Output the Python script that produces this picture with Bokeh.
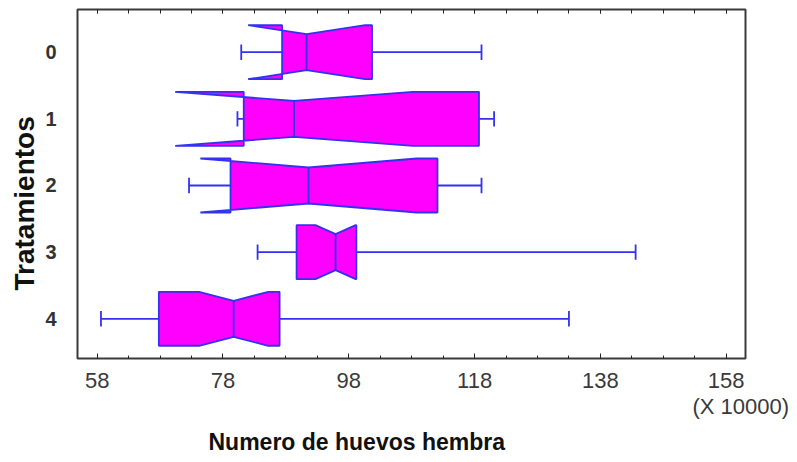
from bokeh.plotting import figure
from bokeh.models import Range1d, FixedTicker, LinearAxis, Title
from bokeh.embed import file_html
from bokeh.resources import INLINE

# Treatment groups (rows, top to bottom)
treatments = ["0", "1", "2", "3", "4"]
rows = [0, 1, 2, 3, 4]

# Five-number summaries, in units of 10000 eggs
whisker_low = [80.9, 80.3, 72.6, 83.5, 58.6]
q1 = [87.4, 81.3, 79.2, 89.7, 67.8]
median = [91.3, 89.3, 91.6, 95.9, 79.7]
q3 = [101.7, 118.7, 112.1, 99.2, 87.0]
whisker_high = [119.1, 121.1, 119.1, 143.6, 133.0]
# Half-width of the median notch
notch_half = [9.3, 18.9, 17.2, 3.2, 5.5]

x_ticks = [58, 78, 98, 118, 138, 158]
x_minor_ticks = list(range(53, 164, 5))

BOX_HALF = 0.405     # half box height (row units)
NOTCH_INSET = 0.135  # how far the outline pinches in at the median
CAP_HALF = 0.115     # half height of whisker caps

FILL = "#ff00ff"
EDGE = "#3232f0"
FONT = "Liberation Sans"

p = figure(width=797, height=462, output_backend="svg", toolbar_location=None,
           x_range=Range1d(54.87, 161.07), y_range=Range1d(4.596, -0.641),
           min_border_left=77, min_border_right=52, min_border_top=9,
           min_border_bottom=104)
p.background_fill_color = "white"
p.border_fill_color = "white"
p.outline_line_color = "#3a3a3a"
p.outline_line_width = 2
p.xgrid.visible = False
p.ygrid.visible = False

# Notched boxes as outlines running Q1 -> notch -> median -> notch -> Q3
xs, ys = [], []
for r, a, m, b, h in zip(rows, q1, median, q3, notch_half):
    lo, hi = m - h, m + h
    top, bot = r - BOX_HALF, r + BOX_HALF
    xs.append([a, lo, m, hi, b, b, hi, m, lo, a])
    ys.append([top, top, top + NOTCH_INSET, top, top,
               bot, bot, bot - NOTCH_INSET, bot, bot])
p.patches(xs, ys, fill_color=FILL, line_color=EDGE, line_width=1.8)

# Median lines
p.segment(x0=median, x1=median,
          y0=[r - BOX_HALF + NOTCH_INSET for r in rows],
          y1=[r + BOX_HALF - NOTCH_INSET for r in rows],
          line_color=EDGE, line_width=1.8)

# Whiskers and caps
p.segment(x0=whisker_low, x1=q1, y0=rows, y1=rows, line_color=EDGE, line_width=1.8)
p.segment(x0=q3, x1=whisker_high, y0=rows, y1=rows, line_color=EDGE, line_width=1.8)
p.segment(x0=whisker_low, x1=whisker_low,
          y0=[r - CAP_HALF for r in rows], y1=[r + CAP_HALF for r in rows],
          line_color=EDGE, line_width=1.8)
p.segment(x0=whisker_high, x1=whisker_high,
          y0=[r - CAP_HALF for r in rows], y1=[r + CAP_HALF for r in rows],
          line_color=EDGE, line_width=1.8)

# Bottom axis
xa = p.xaxis[0]
xa.ticker = FixedTicker(ticks=x_ticks, minor_ticks=x_minor_ticks)
xa.axis_line_color = None
xa.major_tick_in = 5
xa.major_tick_out = 0
xa.minor_tick_in = 3
xa.minor_tick_out = 0
xa.major_tick_line_color = "#222222"
xa.minor_tick_line_color = "#222222"
xa.major_label_text_font = FONT
xa.major_label_text_font_size = "22px"
xa.major_label_text_color = "#3a3a3a"
xa.major_label_standoff = 14

# Top axis: ticks only
top_axis = LinearAxis(ticker=FixedTicker(ticks=x_ticks, minor_ticks=x_minor_ticks))
top_axis.axis_line_color = None
top_axis.major_tick_in = 4
top_axis.major_tick_out = 0
top_axis.minor_tick_in = 4
top_axis.minor_tick_out = 0
top_axis.major_tick_line_color = "#222222"
top_axis.minor_tick_line_color = "#222222"
top_axis.major_label_text_font_size = "1px"
top_axis.major_label_text_alpha = 0
top_axis.major_label_standoff = 0
p.add_layout(top_axis, "above")

# Left axis: treatment labels
ya = p.yaxis[0]
ya.ticker = FixedTicker(ticks=rows)
ya.major_label_overrides = {r: t for r, t in zip(rows, treatments)}
ya.axis_line_color = None
ya.major_tick_in = 0
ya.major_tick_out = 0
ya.minor_tick_line_color = None
ya.major_label_text_font = FONT
ya.major_label_text_font_style = "bold"
ya.major_label_text_font_size = "20px"
ya.major_label_text_color = "#333333"
ya.major_label_standoff = 21

# Scale note under the last tick, then the x title
p.add_layout(Title(text="(X 10000)", align="left", offset=615, standoff=3,
                   text_font=FONT, text_font_style="normal",
                   text_font_size="22px", text_color="#3a3a3a"), "below")
p.add_layout(Title(text="Numero de huevos hembra", align="left", offset=131,
                   standoff=13, text_font=FONT, text_font_style="bold",
                   text_font_size="23px", text_color="#111111"), "below")

# Y title
p.add_layout(Title(text="Tratamientos", align="left", offset=68, standoff=6,
                   text_font=FONT, text_font_style="bold",
                   text_font_size="28px", text_color="#111111"), "left")

open("out.html", "w").write(file_html(p, INLINE))
